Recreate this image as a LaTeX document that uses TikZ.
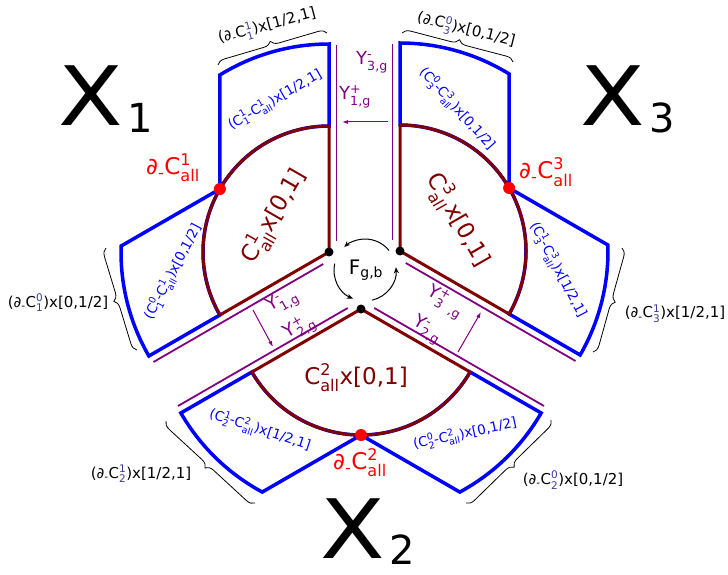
\documentclass[tikz,border=0pt]{standalone}
\usepackage{fontspec}
\usepackage{amsmath}
\setmainfont{DejaVu Sans}
\usetikzlibrary{calc,arrows.meta,decorations.pathreplacing}
\definecolor{cblue}{RGB}{0,0,255}
\definecolor{cdred}{RGB}{128,0,0}
\definecolor{cpurp}{RGB}{128,0,128}
\definecolor{cred}{RGB}{255,0,0}
\definecolor{cscript}{RGB}{60,60,150}
\newcommand{\tss}[2]{$^{\text{#1}}_{\text{#2}}$}
\newcommand{\kss}[2]{$^{\text{\color{cscript}#1}}_{\text{\color{cscript}#2}}$}
\newcommand{\tsb}[1]{$_{\text{#1}}$}
\newcommand{\bigX}[1]{\scalebox{1.15}[1]{X}\hspace{5pt}\raisebox{-6pt}{\fontsize{40}{45}\selectfont #1}}
\begin{document}
\begin{tikzpicture}[x=1pt,y=-1pt,
  wedgeline/.style={draw=cdred,line width=3pt},
  blueshape/.style={draw=cblue,line width=3.5pt},
  purpline/.style={draw=cpurp,line width=1.8pt},
  gaparrow/.style={draw=cpurp,line width=1pt,-{Latex[length=6pt,width=4pt]}},
  circarrow/.style={draw=black,line width=1pt,-{Stealth[length=6pt,width=5pt]}},
  bracestyle/.style={draw=black,line width=0.8pt,decorate,decoration={brace,amplitude=8pt}},
  dotb/.style={circle,fill=black,inner sep=0pt,minimum size=9pt},
  dotr/.style={circle,fill=cred,inner sep=0pt,minimum size=12pt},
  redlab/.style={text=cred,font=\fontsize{23}{27}\selectfont,inner sep=0pt},
  dredlab/.style={text=cdred,font=\fontsize{23}{27}\selectfont,inner sep=0pt},
  bluelab/.style={text=cblue,font=\fontsize{13.5}{16}\selectfont,inner sep=0pt},
  blacklab/.style={text=black,font=\fontsize{15}{18}\selectfont,inner sep=0pt},
  purplab/.style={text=cpurp,font=\fontsize{18}{21}\selectfont,inner sep=0pt},
  biglab/.style={font=\fontsize{82}{90}\selectfont,inner sep=0pt,anchor=base west},
  flab/.style={font=\fontsize{20}{24}\selectfont,inner sep=0pt}]
\useasboundingbox (0,0) rectangle (728,575);
\coordinate (D1) at (329,252);
\coordinate (D2) at (361,309);
\coordinate (D3) at (400,251);
% blue regions
\foreach \c/\m in {D1/210,D2/90,D3/330}{
  \draw[blueshape] ($(\c)+(\m:126)$) -- ($(\c)+(\m+28.35:208)$)
     arc[start angle=\m+28.35,end angle=\m+60,radius=208]
     -- ($(\c)+(\m+60:126)$) arc[start angle=\m+60,end angle=\m,radius=126] -- cycle;
  \draw[blueshape] ($(\c)+(\m:126)$) -- ($(\c)+(\m-28.35:208)$)
     arc[start angle=\m-28.35,end angle=\m-60,radius=208]
     -- ($(\c)+(\m-60:126)$) arc[start angle=\m-60,end angle=\m,radius=126] -- cycle;
}
% wedges and purple lines
\foreach \c/\m in {D1/210,D2/90,D3/330}{
  \draw[wedgeline] ($(\c)+(\m-60:126)$) -- (\c) -- ($(\c)+(\m+60:126)$)
     arc[start angle=\m+60,end angle=\m-60,radius=126];
  \draw[purpline] ($(\c)+(\m+60:11)+(\m+150:7.5)$) -- ($(\c)+(\m+60:207)+(\m+150:7.5)$);
  \draw[purpline] ($(\c)+(\m-60:11)+(\m-150:7.5)$) -- ($(\c)+(\m-60:207)+(\m-150:7.5)$);
  \node[dotb] (dot-\c) at (\c) {};
  \node[dotr] (red-\c) at ($(\c)+(\m:126)$) {};
}
% gap arrows
\coordinate (ga1s) at (388,122); \coordinate (ga1e) at (342,122);
\coordinate (ga2s) at (253,310); \coordinate (ga2e) at (273,347);
\coordinate (ga3s) at (458,352); \coordinate (ga3e) at (481,312);
\draw[gaparrow] (ga1s) -- (ga1e);
\draw[gaparrow] (ga2s) -- (ga2e);
\draw[gaparrow] (ga3s) -- (ga3e);
% circulation around F
\coordinate (Fc) at (365,270);
\node[flab] (F) at (366,270) {F\tsb{g,b}};
\draw[circarrow] ($(Fc)+(321:31)$) arc[start angle=321,end angle=228,radius=31];
\draw[circarrow] ($(Fc)+(192:31)$) arc[start angle=192,end angle=113,radius=31];
\draw[circarrow] ($(Fc)+(77:31)$) arc[start angle=77,end angle=-5,radius=31];
% braces
\coordinate (b1s) at (218,65);  \coordinate (b1e) at (327,33);
\coordinate (b2s) at (402,33);  \coordinate (b2e) at (513,62);
\coordinate (b3s) at (137,350); \coordinate (b3e) at (106,248);
\coordinate (b4s) at (622,248); \coordinate (b4e) at (593,352);
\coordinate (b5s) at (255,503); \coordinate (b5e) at (166,421);
\coordinate (b6s) at (551,420); \coordinate (b6e) at (466,503);
\foreach \s/\e in {b1s/b1e,b2s/b2e,b3s/b3e,b4s/b4e,b5s/b5e,b6s/b6e}
  \draw[bracestyle] (\s) -- (\e);
% dark red labels
\node[dredlab,rotate=60] (c1) at (274,216) {C\tss{1}{all}x[0,1]};
\node[dredlab,rotate=-60] (c3) at (458,220) {C\tss{3}{all}x[0,1]};
\node[dredlab] (c2) at (356,378) {C\tss{2}{all}x[0,1]};
% red labels
\node[redlab] (r1) at (173,168) {∂\tsb{-}C\tss{1}{all}};
\node[redlab] (r3) at (546,172) {∂\tsb{-}C\tss{3}{all}};
\node[redlab] (r2) at (360,463) {∂\tsb{-}C\tss{2}{all}};
% blue labels
\node[bluelab,rotate=30] (l1a) at (275,100) {(C\tss{1}{1}-C\tss{1}{all})x[1/2,1]};
\node[bluelab,rotate=62] (l1b) at (173,272) {(C\tss{0}{1}-C\tss{1}{all})x[0,1/2]};
\node[bluelab,rotate=-48] (l3a) at (457,109) {(C\tss{0}{3}-C\tss{3}{all})x[0,1/2]};
\node[bluelab,rotate=-62] (l3b) at (558,270) {(C\tss{1}{3}-C\tss{3}{all})x[1/2,1]};
\node[bluelab,rotate=-18] (l2a) at (260,430) {(C\tss{1}{2}-C\tss{2}{all})x[1/2,1]};
\node[bluelab,rotate=12] (l2b) at (465,434) {(C\tss{0}{2}-C\tss{2}{all})x[0,1/2]};
% black labels
\node[blacklab,rotate=15] (k1a) at (267,26) {(∂\tsb{-}C\kss{1}{1})x[1/2,1]};
\node[blacklab,rotate=-14] (k3a) at (466,30) {(∂\tsb{-}C\kss{0}{3})x[0,1/2]};
\node[blacklab] (k1b) at (58,303) {(∂\tsb{-}C\kss{0}{1})x[0,1/2]};
\node[blacklab] (k3b) at (675,314) {(∂\tsb{-}C\kss{1}{3})x[1/2,1]};
\node[blacklab] (k2a) at (141,474) {(∂\tsb{-}C\kss{1}{2})x[1/2,1]};
\node[blacklab] (k2b) at (573,480) {(∂\tsb{-}C\kss{0}{2})x[0,1/2]};
% purple labels
\node[purplab] (y3m) at (372,62) {Y\tss{-}{3,g}};
\node[purplab] (y1p) at (355,97) {Y\tss{+}{1,g}};
\node[purplab,rotate=30] (y1m) at (283,302) {Y\tss{-}{1,g}};
\node[purplab,rotate=30] (y2p) at (300,328) {Y\tss{+}{2,g}};
\node[purplab,rotate=-30] (y3p) at (445,302) {Y\tss{+}{3\ \ ,g}};
\node[purplab,rotate=-30] (y2m) at (427,330) {Y\tss{-}{2,g}};
% big labels
\node[biglab] (X1) at (58,126) {\bigX{1}};
\node[biglab] (X3) at (580,126) {\bigX{3}};
\node[biglab] (X2) at (320,558) {\bigX{2}};
\end{tikzpicture}
\end{document}
